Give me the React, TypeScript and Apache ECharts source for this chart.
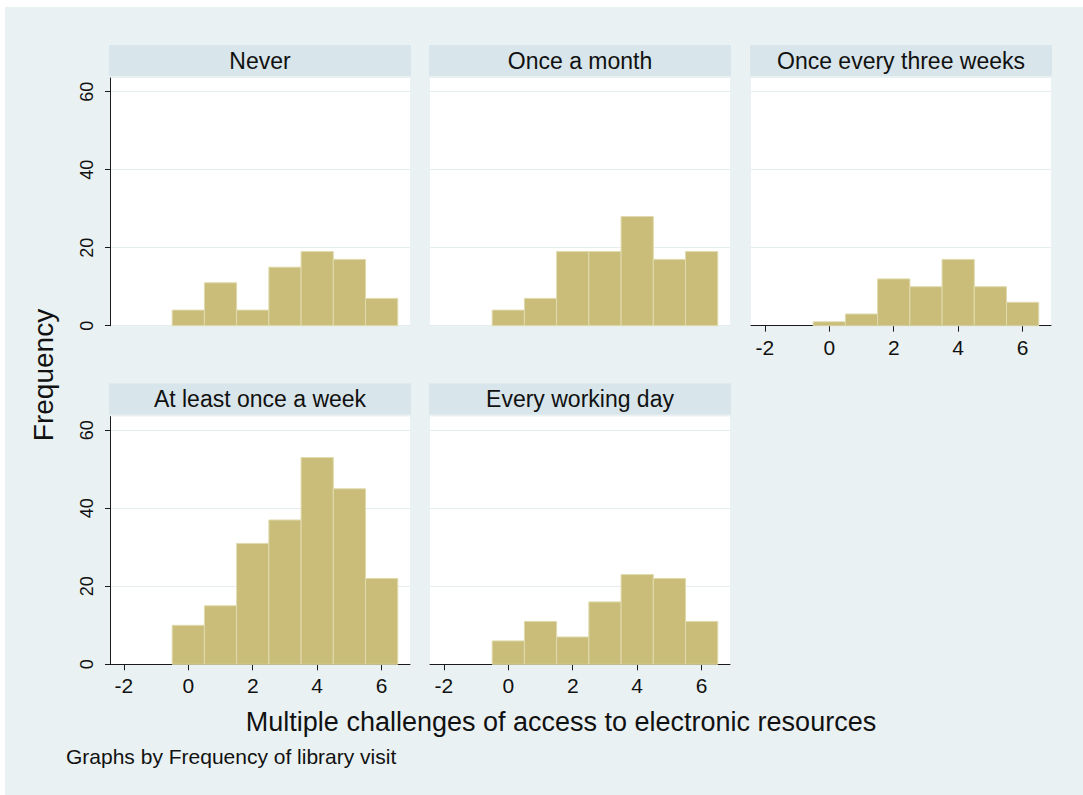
import React, { useEffect, useRef } from "react";
import * as echarts from "echarts";

// ---- data ----
const binCenters = [0, 1, 2, 3, 4, 5, 6];
const never = [4, 11, 4, 15, 19, 17, 7];
const onceAMonth = [4, 7, 19, 19, 28, 17, 19];
const onceEveryThreeWeeks = [1, 3, 12, 10, 17, 10, 6];
const atLeastOnceAWeek = [10, 15, 31, 37, 53, 45, 22];
const everyWorkingDay = [6, 11, 7, 16, 23, 22, 11];
const panelTitles = [
  "Never",
  "Once a month",
  "Once every three weeks",
  "At least once a week",
  "Every working day",
];
const yTickValues = [0, 20, 40, 60];
const xTickValues = [-2, 0, 2, 4, 6];
const yTitle = "Frequency";
const xTitle = "Multiple challenges of access to electronic resources";
const note = "Graphs by Frequency of library visit";

const allCounts = [never, onceAMonth, onceEveryThreeWeeks, atLeastOnceAWeek, everyWorkingDay];

// ---- layout / style ----
const FONT = "'Liberation Sans', Arial, sans-serif";
const BG = "#EAF1F3";
const STRIP = "#D8E5EA";
const BAR = "#C9BD79";
const BAR_EDGE = "#E0DAAE";
const GRIDLINE = "#E6EDEF";
const AXIS = "#1a1a1a";
const PW = 300;
const PH = 247.7;
const panels = [
  { left: 110, top: 78, showY: true, showX: false },
  { left: 430, top: 78, showY: false, showX: false },
  { left: 751, top: 78, showY: false, showX: true },
  { left: 110, top: 416.6, showY: true, showX: true },
  { left: 430, top: 416.6, showY: false, showX: true },
];

export default function App() {
  const ref = useRef<HTMLDivElement>(null);
  useEffect(() => {
    document.body.style.margin = "0";
    const chart = echarts.init(ref.current!, null, { renderer: "svg" });
    const grids: any[] = [];
    const xAxes: any[] = [];
    const yAxes: any[] = [];
    const series: any[] = [];
    const graphics: any[] = [
      { type: "rect", shape: { x: 0, y: 0, width: 1083, height: 7 }, style: { fill: "#fff" }, silent: true },
      { type: "rect", shape: { x: 0, y: 0, width: 5, height: 795 }, style: { fill: "#fff" }, silent: true },
    ];
    panels.forEach((p, i) => {
      grids.push({
        left: p.left,
        top: p.top,
        width: PW,
        height: PH,
        show: true,
        backgroundColor: "#ffffff",
        borderWidth: 0,
      });
      xAxes.push({
        type: "value",
        gridIndex: i,
        min: -2.43,
        max: 6.88,
        show: p.showX,
        axisLine: { show: true, onZero: false, lineStyle: { color: AXIS, width: 1 } },
        axisTick: { show: true, length: 6, customValues: xTickValues, lineStyle: { color: AXIS } },
        axisLabel: {
          customValues: xTickValues,
          margin: 11,
          fontSize: 21,
          color: "#111",
          fontFamily: FONT,
        },
        splitLine: { show: false },
      });
      yAxes.push({
        type: "value",
        gridIndex: i,
        min: 0,
        max: 63.5,
        axisLine: { show: p.showY, onZero: false, lineStyle: { color: AXIS, width: 1 } },
        axisTick: { show: p.showY, length: 5, customValues: yTickValues, lineStyle: { color: AXIS } },
        axisLabel: {
          show: p.showY,
          customValues: yTickValues,
          rotate: 90,
          margin: 14,
          fontSize: 18,
          color: "#111",
          fontFamily: FONT,
        },
        splitLine: { show: true, lineStyle: { color: GRIDLINE, width: 1 } },
      });
      series.push({
        type: "custom",
        xAxisIndex: i,
        yAxisIndex: i,
        data: binCenters.map((c, k) => [c, allCounts[i][k]]),
        encode: { x: 0, y: 1 },
        renderItem: (params: any, api: any) => {
          const x = api.value(0);
          const y = api.value(1);
          const p1 = api.coord([x - 0.5, y]);
          const p2 = api.coord([x + 0.5, 0]);
          return {
            type: "rect",
            shape: { x: p1[0], y: p1[1], width: p2[0] - p1[0], height: p2[1] - p1[1] },
            style: { fill: BAR, stroke: BAR_EDGE, lineWidth: 1 },
          };
        },
      });
      graphics.push({
        type: "rect",
        shape: { x: p.left - 1, y: p.top - 33, width: PW + 2, height: 31 },
        style: { fill: STRIP },
        silent: true,
      });
      graphics.push({
        type: "text",
        x: p.left + PW / 2,
        y: p.top - 17.5,
        style: {
          text: panelTitles[i],
          fill: "#111",
          font: `23px ${FONT}`,
          textAlign: "center",
          textVerticalAlign: "middle",
        },
        silent: true,
      });
    });
    graphics.push({
      type: "text",
      x: 43,
      y: 375,
      rotation: Math.PI / 2,
      style: {
        text: yTitle,
        fill: "#111",
        font: `28px ${FONT}`,
        textAlign: "center",
        textVerticalAlign: "middle",
      },
      silent: true,
    });
    graphics.push({
      type: "text",
      x: 561,
      y: 722,
      style: {
        text: xTitle,
        fill: "#111",
        font: `27px ${FONT}`,
        textAlign: "center",
        textVerticalAlign: "middle",
      },
      silent: true,
    });
    graphics.push({
      type: "text",
      x: 66,
      y: 756,
      style: {
        text: note,
        fill: "#111",
        font: `21px ${FONT}`,
        textAlign: "left",
        textVerticalAlign: "middle",
      },
      silent: true,
    });
    chart.setOption({
      animation: false,
      backgroundColor: BG,
      textStyle: { fontFamily: FONT },
      grid: grids,
      xAxis: xAxes,
      yAxis: yAxes,
      series,
      graphic: graphics,
    });
    return () => chart.dispose();
  }, []);
  return <div ref={ref} style={{ width: 1083, height: 795 }} />;
}
